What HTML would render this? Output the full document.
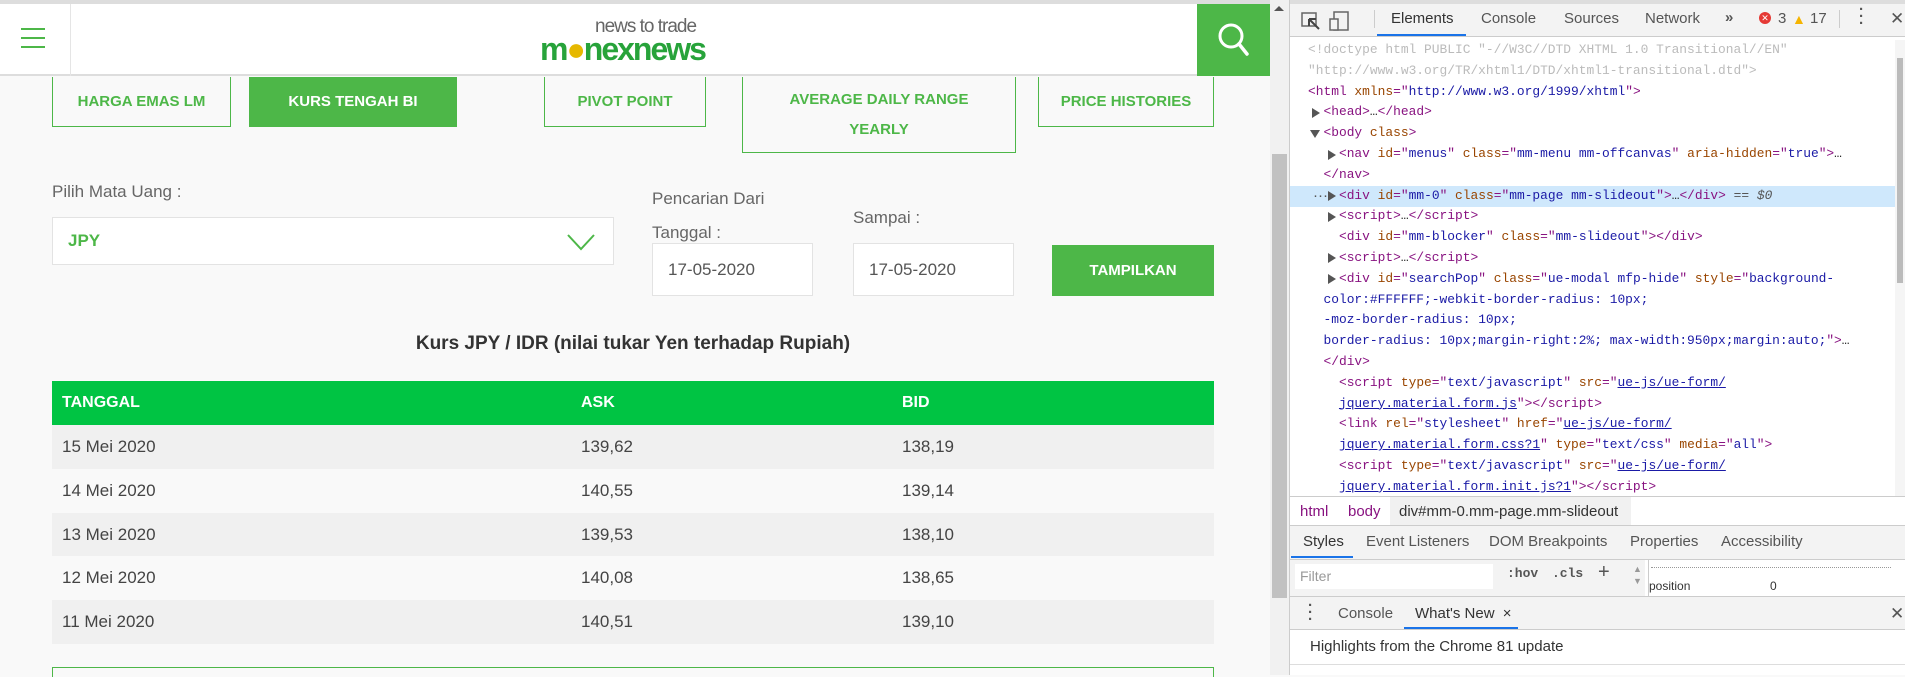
<!DOCTYPE html>
<html><head><meta charset="utf-8">
<style>
*{box-sizing:border-box;margin:0;padding:0}
body{width:1905px;height:675px;overflow:hidden;position:relative;background:#f9f9f9;font-family:"Liberation Sans",sans-serif}
.a{position:absolute}
.tab{position:absolute;border:1.5px solid #4db748;border-top:none;color:#4db748;font-weight:bold;font-size:15px;display:flex;align-items:center;justify-content:center;text-align:center;line-height:30px;background:#f9f9f9}
.lbl{position:absolute;color:#666;font-size:17px}
.inp{position:absolute;background:#fff;border:1px solid #e3e3e3;font-size:17px;color:#555;padding-left:15px;display:flex;align-items:center}
.code{position:absolute;font-family:"Liberation Mono",monospace;font-size:12.9px;white-space:pre;line-height:20.8px;color:#222}
.t{color:#881280}.n{color:#994500}.v{color:#1a1aa6}.u{color:#1a1aa6;text-decoration:underline}.g{color:#bbb}
.dt{position:absolute;font-size:15px;color:#555;font-family:"Liberation Sans",sans-serif}
.tri{position:absolute;width:0;height:0;border-top:5px solid transparent;border-bottom:5px solid transparent;border-left:8px solid #555}
</style></head><body>
<div class="a" style="left:0;top:0;width:1270px;height:4px;background:#ddd"></div>
<div class="a" style="left:0;top:4px;width:1270px;height:72px;background:#fff;border-bottom:2px solid #ddd"></div>
<div class="a" style="left:21px;top:28px;width:24px;height:20px">
<div class="a" style="top:0;width:24px;height:2px;background:#4db748"></div><div class="a" style="top:9px;width:24px;height:2px;background:#4db748"></div><div class="a" style="top:18px;width:24px;height:2px;background:#4db748"></div></div>
<div class="a" style="left:70px;top:4px;width:1px;height:72px;background:#e5e5e5"></div>
<div class="a" style="left:540px;top:14px;width:200px;height:50px">
<div class="a" style="left:55px;top:2px;font-size:19px;color:#666;letter-spacing:-1px">news to trade</div>
<div class="a" style="left:0;top:17px;font-size:32px;font-weight:bold;color:#27a33a;letter-spacing:-2px">m<span style="color:#e6b800">●</span>nexnews</div></div>
<div class="a" style="left:1197px;top:4px;width:73px;height:72px;background:#4db748">
<svg width="73" height="72"><circle cx="34" cy="32" r="11" stroke="#fff" stroke-width="3" fill="none"/><line x1="42" y1="40" x2="50" y2="50" stroke="#fff" stroke-width="3.5" stroke-linecap="round"/></svg></div>

<div class="tab" style="left:52px;top:77px;width:179px;height:50px">HARGA EMAS LM</div>
<div class="tab" style="left:249px;top:77px;width:208px;height:50px;background:#4db748;color:#fff">KURS TENGAH BI</div>
<div class="tab" style="left:544px;top:77px;width:162px;height:50px">PIVOT POINT</div>
<div class="tab" style="left:742px;top:77px;width:274px;height:76px">AVERAGE DAILY RANGE<br>YEARLY</div>
<div class="tab" style="left:1038px;top:77px;width:176px;height:50px">PRICE HISTORIES</div>

<div class="lbl" style="left:52px;top:182px">Pilih Mata Uang :</div>
<div class="inp" style="left:52px;top:217px;width:562px;height:48px;color:#4db748;font-weight:bold">JPY
<svg class="a" style="left:513px;top:14px" width="30" height="20"><polyline points="2,3 15,17 28,3" fill="none" stroke="#4db748" stroke-width="2"/></svg></div>
<div class="lbl" style="left:652px;top:182px;line-height:34px">Pencarian Dari<br>Tanggal :</div>
<div class="lbl" style="left:853px;top:208px">Sampai :</div>
<div class="inp" style="left:652px;top:243px;width:161px;height:53px">17-05-2020</div>
<div class="inp" style="left:853px;top:243px;width:161px;height:53px">17-05-2020</div>
<div class="a" style="left:1052px;top:245px;width:162px;height:51px;background:#4db748;color:#fff;font-weight:bold;font-size:15px;display:flex;align-items:center;justify-content:center">TAMPILKAN</div>

<div class="a" style="left:52px;top:333px;width:1162px;text-align:center;font-size:19px;font-weight:bold;color:#333">Kurs JPY / IDR (nilai tukar Yen terhadap Rupiah)</div>
<div class="a" style="left:52px;top:381px;width:1162px;height:44px;background:#00c443;color:#fff;font-weight:bold;font-size:16px">
<span class="a" style="left:10px;top:13px">TANGGAL</span><span class="a" style="left:529px;top:13px">ASK</span><span class="a" style="left:850px;top:13px">BID</span></div>
<div id="rows"></div>
<div class="a" style="left:52px;top:667px;width:1162px;height:10px;border:1.5px solid #4db748;border-bottom:none"></div>

<div class="a" style="left:1270px;top:0;width:19px;height:675px;background:#f1f1f1">
<div class="a" style="left:4px;top:6px;width:0;height:0;border-left:5px solid transparent;border-right:5px solid transparent;border-bottom:5px solid #555"></div>
<div class="a" style="left:2px;top:154px;width:15px;height:444px;background:#c1c1c1"></div></div>

<div class="a" style="left:1289px;top:0;width:616px;height:675px;background:#fff;border-left:1px solid #ccc"></div>
<div class="a" style="left:1290px;top:4px;width:615px;height:33px;background:#f3f3f3;border-bottom:1px solid #ccc"></div>
<div class="a" style="left:1290px;top:0;width:615px;height:4px;background:#ddd"></div>
<svg class="a" style="left:1300px;top:10px" width="60" height="22"><rect x="2" y="3" width="14" height="13" fill="none" stroke="#666" stroke-width="1.5"/><path d="M9 9 L19 19 M9 9 L9 16 M9 9 L16 9" stroke="#444" stroke-width="2" fill="none"/><rect x="34" y="2" width="14" height="18" fill="none" stroke="#666" stroke-width="1.5"/><rect x="30" y="9" width="8" height="11" fill="#f3f3f3" stroke="#666" stroke-width="1.5"/></svg>
<div class="a" style="left:1374px;top:10px;width:1px;height:18px;background:#ccc"></div>
<div class="dt" style="left:1391px;top:10px;color:#333">Elements</div>
<div class="a" style="left:1377px;top:34px;width:89px;height:2px;background:#1a73e8"></div>
<div class="dt" style="left:1481px;top:10px">Console</div>
<div class="dt" style="left:1564px;top:10px">Sources</div>
<div class="dt" style="left:1645px;top:10px">Network</div>
<div class="dt" style="left:1725px;top:9px;font-weight:bold">»</div>
<div class="a" style="left:1759px;top:12px;width:12px;height:12px;border-radius:6px;background:#e53935;color:#fff;font-size:9px;text-align:center;line-height:12px">✕</div>
<div class="dt" style="left:1778px;top:10px">3</div>
<div class="a" style="left:1792px;top:11px;color:#f5b400;font-size:14px">▲</div>
<div class="dt" style="left:1810px;top:10px">17</div>
<div class="a" style="left:1839px;top:10px;width:1px;height:18px;background:#ccc"></div>
<div class="dt" style="left:1859px;top:6px;font-weight:bold;line-height:7px">·<br>·<br>·</div>
<div class="dt" style="left:1890px;top:9px;font-size:17px">✕</div>

<div class="a" style="left:1290px;top:186px;width:605px;height:21px;background:#cfe8fc"></div>
<div class="dt" style="left:1313px;top:187px;color:#555">···</div>
<div class="code" style="left:1308px;top:40px"><span class="g">&lt;!doctype html PUBLIC "-//W3C//DTD XHTML 1.0 Transitional//EN"
"http://www.w3.org/TR/xhtml1/DTD/xhtml1-transitional.dtd"&gt;</span>
<span class="t">&lt;html </span><span class="n">xmlns</span><span class="t">="</span><span class="v">http://www.w3.org/1999/xhtml</span><span class="t">"&gt;</span>
  <span class="t">&lt;head&gt;</span>…<span class="t">&lt;/head&gt;</span>
  <span class="t">&lt;body </span><span class="n">class</span><span class="t">&gt;</span>
    <span class="t">&lt;nav </span><span class="n">id</span><span class="t">="</span><span class="v">menus</span><span class="t">" </span><span class="n">class</span><span class="t">="</span><span class="v">mm-menu mm-offcanvas</span><span class="t">" </span><span class="n">aria-hidden</span><span class="t">="</span><span class="v">true</span><span class="t">"&gt;</span>…
  <span class="t">&lt;/nav&gt;</span>
    <span class="t">&lt;div </span><span class="n">id</span><span class="t">="</span><span class="v">mm-0</span><span class="t">" </span><span class="n">class</span><span class="t">="</span><span class="v">mm-page mm-slideout</span><span class="t">"&gt;</span>…<span class="t">&lt;/div&gt;</span> <span style="color:#555">== <i>$0</i></span>
    <span class="t">&lt;script&gt;</span>…<span class="t">&lt;/script&gt;</span>
    <span class="t">&lt;div </span><span class="n">id</span><span class="t">="</span><span class="v">mm-blocker</span><span class="t">" </span><span class="n">class</span><span class="t">="</span><span class="v">mm-slideout</span><span class="t">"&gt;&lt;/div&gt;</span>
    <span class="t">&lt;script&gt;</span>…<span class="t">&lt;/script&gt;</span>
    <span class="t">&lt;div </span><span class="n">id</span><span class="t">="</span><span class="v">searchPop</span><span class="t">" </span><span class="n">class</span><span class="t">="</span><span class="v">ue-modal mfp-hide</span><span class="t">" </span><span class="n">style</span><span class="t">="</span><span class="v">background-</span>
  <span class="v">color:#FFFFFF;-webkit-border-radius: 10px;</span>
  <span class="v">-moz-border-radius: 10px;</span>
  <span class="v">border-radius: 10px;margin-right:2%; max-width:950px;margin:auto;</span><span class="t">"&gt;</span>…
  <span class="t">&lt;/div&gt;</span>
    <span class="t">&lt;script </span><span class="n">type</span><span class="t">="</span><span class="v">text/javascript</span><span class="t">" </span><span class="n">src</span><span class="t">="</span><span class="u">ue-js/ue-form/</span>
    <span class="u">jquery.material.form.js</span><span class="t">"&gt;&lt;/script&gt;</span>
    <span class="t">&lt;link </span><span class="n">rel</span><span class="t">="</span><span class="v">stylesheet</span><span class="t">" </span><span class="n">href</span><span class="t">="</span><span class="u">ue-js/ue-form/</span>
    <span class="u">jquery.material.form.css?1</span><span class="t">" </span><span class="n">type</span><span class="t">="</span><span class="v">text/css</span><span class="t">" </span><span class="n">media</span><span class="t">="</span><span class="v">all</span><span class="t">"&gt;</span>
    <span class="t">&lt;script </span><span class="n">type</span><span class="t">="</span><span class="v">text/javascript</span><span class="t">" </span><span class="n">src</span><span class="t">="</span><span class="u">ue-js/ue-form/</span>
    <span class="u">jquery.material.form.init.js?1</span><span class="t">"&gt;&lt;/script&gt;</span></div>
<div class="a" style="left:1290px;top:494px;width:605px;height:3px;background:#fff"></div>
<div class="tri" style="left:1312px;top:108px"></div>
<div class="a" style="left:1310px;top:130px;border-left:5px solid transparent;border-right:5px solid transparent;border-top:8px solid #555"></div>
<div class="tri" style="left:1328px;top:150px"></div>
<div class="tri" style="left:1328px;top:191px"></div>
<div class="tri" style="left:1328px;top:212px"></div>
<div class="tri" style="left:1328px;top:253px"></div>
<div class="tri" style="left:1328px;top:274px"></div>
<div class="a" style="left:1895px;top:40px;width:10px;height:456px;background:#f5f5f5"><div class="a" style="left:2px;top:18px;width:6px;height:225px;background:#bbb"></div></div>

<div class="a" style="left:1290px;top:496px;width:615px;height:30px;background:#fff;border-top:1px solid #ccc;border-bottom:1px solid #ccc"></div>
<div class="a" style="left:1390px;top:497px;width:241px;height:28px;background:#f1f1f1"></div>
<div class="dt" style="left:1300px;top:503px;color:#881280">html</div>
<div class="dt" style="left:1348px;top:503px;color:#881280">body</div>
<div class="dt" style="left:1399px;top:503px;color:#333">div#mm-0.mm-page.mm-slideout</div>

<div class="a" style="left:1290px;top:526px;width:615px;height:34px;background:#f3f3f3;border-bottom:1px solid #ccc"></div>
<div class="dt" style="left:1303px;top:533px;color:#333">Styles</div>
<div class="a" style="left:1291px;top:556px;width:62px;height:2px;background:#1a73e8"></div>
<div class="dt" style="left:1366px;top:533px">Event Listeners</div>
<div class="dt" style="left:1489px;top:533px">DOM Breakpoints</div>
<div class="dt" style="left:1630px;top:533px">Properties</div>
<div class="dt" style="left:1721px;top:533px">Accessibility</div>

<div class="a" style="left:1290px;top:560px;width:355px;height:36px;background:#f3f3f3"></div>
<div class="a" style="left:1295px;top:564px;width:198px;height:25px;background:#fff;color:#999;font-size:14px;padding:4px 5px">Filter</div>
<div class="dt" style="left:1507px;top:566px;font-family:'Liberation Mono',monospace;font-weight:bold;font-size:13px">:hov</div>
<div class="dt" style="left:1552px;top:566px;font-family:'Liberation Mono',monospace;font-weight:bold;font-size:13px">.cls</div>
<div class="dt" style="left:1598px;top:561px;font-size:20px">+</div>
<div class="a" style="left:1648px;top:560px;width:247px;height:36px;background:#fff;border-left:1px solid #ccc"><div class="a" style="left:2px;top:7px;width:240px;border-top:1px dotted #999"></div></div>
<div class="dt" style="left:1649px;top:579px;font-size:12px;color:#333">position</div>
<div class="dt" style="left:1770px;top:579px;font-size:12px;color:#333">0</div>
<div class="dt" style="left:1633px;top:563px;font-size:9px;color:#999;line-height:12px">▲<br>▼</div>

<div class="a" style="left:1290px;top:596px;width:615px;height:34px;background:#f3f3f3;border-top:1px solid #ccc;border-bottom:1px solid #ccc"></div>
<div class="dt" style="left:1308px;top:602px;font-weight:bold;line-height:7px">·<br>·<br>·</div>
<div class="dt" style="left:1338px;top:605px">Console</div>
<div class="dt" style="left:1415px;top:605px;color:#333">What's New <span style="margin-left:4px">×</span></div>
<div class="a" style="left:1404px;top:627px;width:114px;height:2px;background:#1a73e8"></div>
<div class="dt" style="left:1890px;top:604px;font-size:17px">✕</div>
<div class="dt" style="left:1310px;top:638px;color:#333">Highlights from the Chrome 81 update</div>
<div class="a" style="left:1290px;top:664px;width:615px;height:1px;background:#ddd"></div>

<script>
const dates=["15 Mei 2020","14 Mei 2020","13 Mei 2020","12 Mei 2020","11 Mei 2020"];
const askVals=["139,62","140,55","139,53","140,08","140,51"];
const bidVals=["138,19","139,14","138,10","138,65","139,10"];
const rows=document.getElementById('rows');
dates.forEach((d,i)=>{
  const r=document.createElement('div');
  
  
  r.className='a';
  r.style.cssText=`left:52px;top:${425+i*43.8}px;width:1162px;height:44px;background:${i%2?'#f9f9f9':'#f0f0f0'};font-size:17px;color:#444`;
  r.innerHTML=`<span class="a" style="left:10px;top:12px">${d}</span><span class="a" style="left:529px;top:12px">${askVals[i]}</span><span class="a" style="left:850px;top:12px">${bidVals[i]}</span>`;
  rows.appendChild(r);
});
</script>
</body></html>
